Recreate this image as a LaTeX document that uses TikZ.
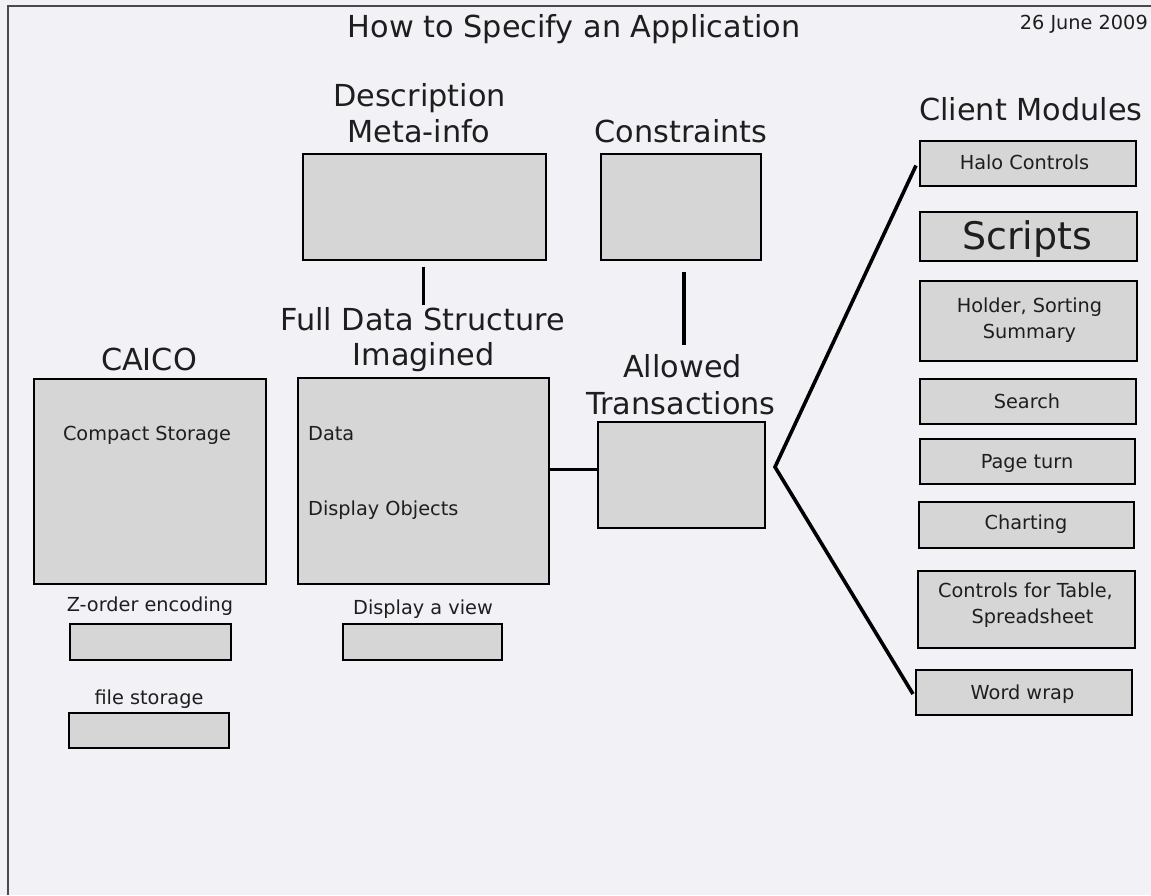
\documentclass[tikz,border=0pt]{standalone}
\usepackage{fontspec}
\setmainfont{DejaVu Sans}
\usetikzlibrary{calc}
\definecolor{bg}{HTML}{F2F1F6}
\definecolor{boxfill}{HTML}{D6D6D6}
\definecolor{txt}{HTML}{1E1E1E}
\definecolor{frame}{HTML}{4A4A4A}
\tikzset{
  box/.style={rectangle, draw=black, fill=boxfill, line width=2.6pt, inner sep=0pt},
  conn/.style={draw=black, line width=3.6pt},
  head/.style={anchor=base, inner sep=0pt, text=txt, font=\fontsize{30.3}{35}\selectfont},
  lbl/.style={anchor=base, inner sep=0pt, text=txt, font=\fontsize{19.3}{23}\selectfont},
  big/.style={anchor=base, inner sep=0pt, text=txt, font=\fontsize{38}{44}\selectfont},
}
\begin{document}
\begin{tikzpicture}[x=1pt,y=-1pt]
\useasboundingbox (0,0) rectangle (1151,895);
\fill[bg] (0,0) rectangle (1151,895);
\draw[frame, line width=2pt] (8,895) -- (8,5.5) -- (1151,5.5);

% titles
\node[head] (title) at (574,37) {How to Specify an Application};
\node[lbl, anchor=base east] (date) at (1148,29) {26 June 2009};

% headings
\node[head] (descH1) at (419.5,106.5) {Description};
\node[head] (descH2) at (419,142) {Meta-info};
\node[head] (constrH) at (681,142) {Constraints};
\node[head] (clientH) at (1031,120) {Client Modules};
\node[head] (fullH1) at (422.5,330) {Full Data Structure};
\node[head] (fullH2) at (423.5,365) {Imagined};
\node[head] (caicoH) at (149,370.5) {CAICO};
\node[head] (allowH1) at (682.5,377) {Allowed};
\node[head] (allowH2) at (681,414.5) {Transactions};

% boxes
\node[box, minimum width=243pt, minimum height=106pt] (desc) at (424.5,207) {};
\node[box, minimum width=160pt, minimum height=106pt] (constr) at (681,207) {};
\node[box, minimum width=232pt, minimum height=205pt] (caico) at (150,481.5) {};
\node[box, minimum width=251pt, minimum height=206pt] (full) at (423.5,481) {};
\node[box, minimum width=167pt, minimum height=106pt] (allowed) at (681.5,475) {};
\node[box, minimum width=161pt, minimum height=36pt] (zorder) at (150.5,642) {};
\node[box, minimum width=160pt, minimum height=35pt] (filest) at (149,730.5) {};
\node[box, minimum width=159pt, minimum height=36pt] (dispview) at (422.5,642) {};

\node[box, minimum width=216pt, minimum height=45pt] (halo) at (1028,163.5) {};
\node[box, minimum width=217pt, minimum height=49pt] (scripts) at (1028.5,236.5) {};
\node[box, minimum width=217pt, minimum height=80pt] (holder) at (1028.5,321) {};
\node[box, minimum width=216pt, minimum height=45pt] (search) at (1028,401.5) {};
\node[box, minimum width=215pt, minimum height=45pt] (pageturn) at (1027.5,461.5) {};
\node[box, minimum width=215pt, minimum height=46pt] (charting) at (1026.5,525) {};
\node[box, minimum width=217pt, minimum height=77pt] (controls) at (1026.5,609.5) {};
\node[box, minimum width=216pt, minimum height=45pt] (wordwrap) at (1024,692.5) {};

% box texts
\node[lbl] (compact) at (147,440) {Compact Storage};
\node[lbl, anchor=base west] (data) at (308,440) {Data};
\node[lbl, anchor=base west] (dispobj) at (308,515) {Display Objects};
\node[lbl] (zorderT) at (150,611) {Z-order encoding};
\node[lbl] (dispviewT) at (423,614) {Display a view};
\node[lbl] (filestT) at (149,704) {file storage};

\node[lbl] (haloT) at (1024.5,169) {Halo Controls};
\node[big] (scriptsT) at (1027,249) {Scripts};
\node[lbl] (holderT1) at (1029.5,312) {Holder, Sorting};
\node[lbl] (holderT2) at (1029.5,338) {Summary};
\node[lbl] (searchT) at (1027,408) {Search};
\node[lbl] (pageturnT) at (1027,468) {Page turn};
\node[lbl] (chartingT) at (1026,529) {Charting};
\node[lbl] (controlsT1) at (1025.5,597) {Controls for Table,};
\node[lbl] (controlsT2) at (1032.5,623) {Spreadsheet};
\node[lbl] (wordwrapT) at (1022.5,699) {Word wrap};

% connectors
\coordinate (d1) at (423.5,266.5);
\coordinate (d2) at (423.5,305);
\draw[conn] (d1) -- (d2);
\coordinate (c1) at (684,272);
\coordinate (c2) at (684,345);
\draw[conn] (c1) -- (c2);
\coordinate (hy) at (0,469.5);
\draw[conn] (full.east |- hy) -- (allowed.west |- hy);
\coordinate (apex) at (775,467);
\coordinate (haloEnd) at (916,165.5);
\coordinate (wrapEnd) at (913,694);
\draw[conn, line join=miter] (haloEnd) -- (apex) -- (wrapEnd);
\end{tikzpicture}
\end{document}
